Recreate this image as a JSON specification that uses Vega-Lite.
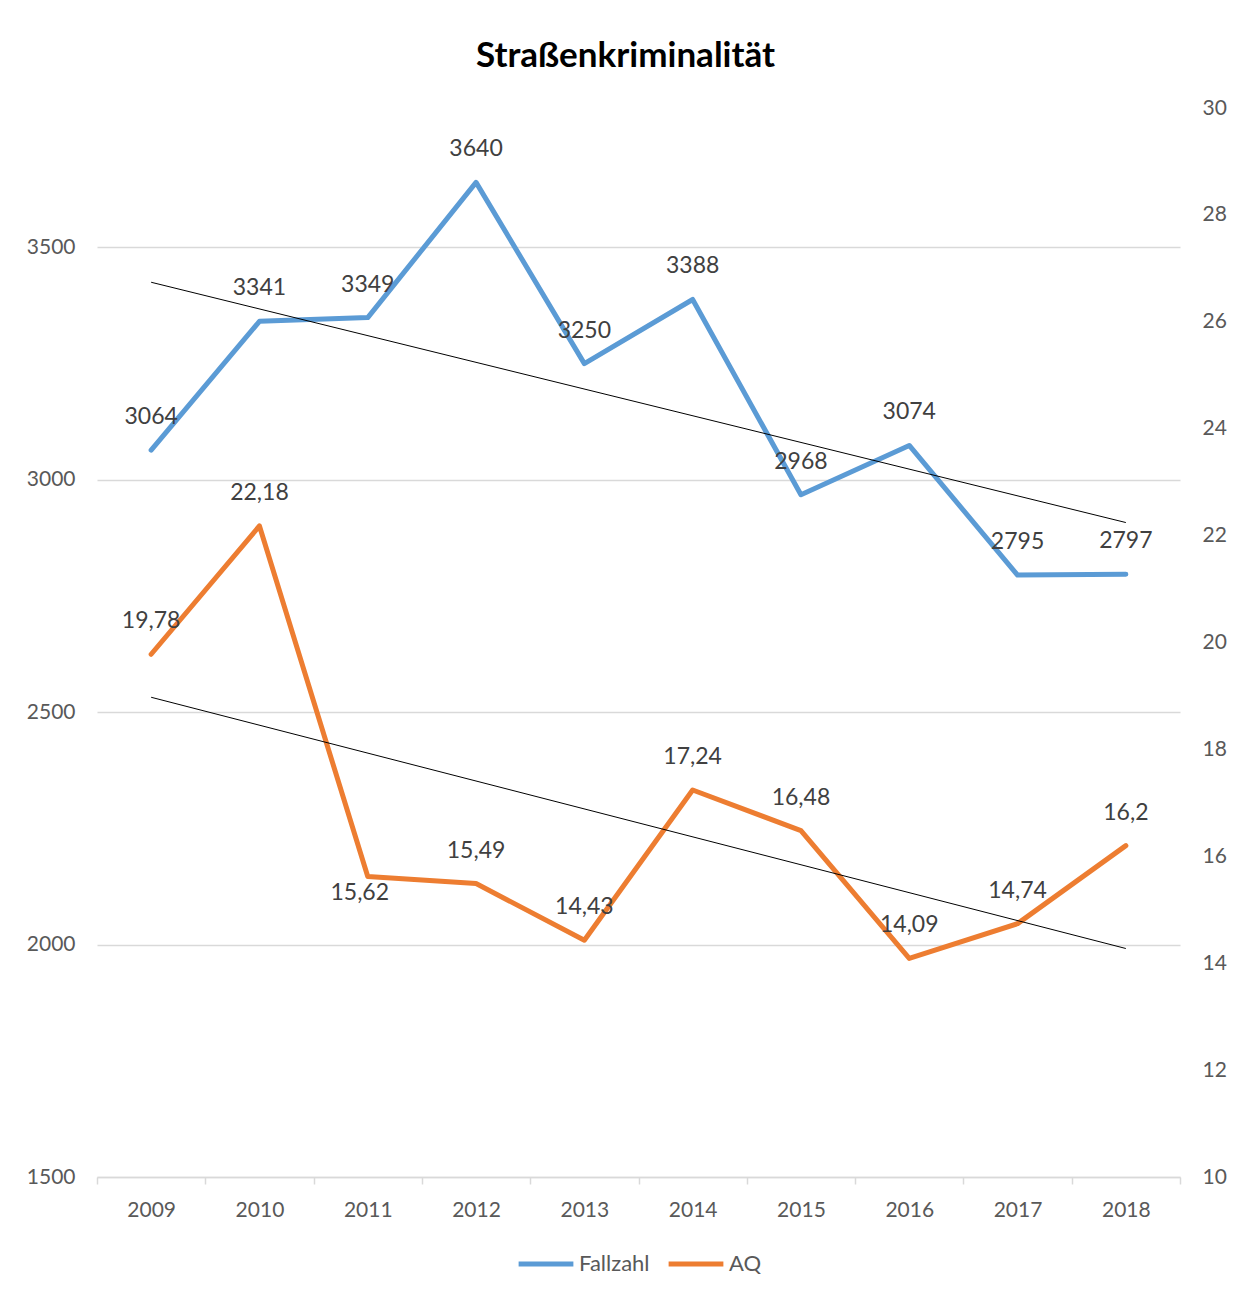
{
  "$schema": "https://vega.github.io/schema/vega-lite/v6.json",
  "width": 1083,
  "height": 1069,
  "autosize": {"type": "none"},
  "padding": {"left": 97, "top": 108, "right": 53, "bottom": 116},
  "background": "white",
  "title": {
    "text": "Straßenkriminalität",
    "font": "Lato",
    "fontSize": 35,
    "fontWeight": "bold",
    "color": "#000000",
    "anchor": "middle",
    "dx": -13,
    "baseline": "alphabetic",
    "offset": -5
  },
  "data": {
    "values": [
      {"year": 2009, "Fallzahl": 3064, "AQ": 19.78},
      {"year": 2010, "Fallzahl": 3341, "AQ": 22.18},
      {"year": 2011, "Fallzahl": 3349, "AQ": 15.62},
      {"year": 2012, "Fallzahl": 3640, "AQ": 15.49},
      {"year": 2013, "Fallzahl": 3250, "AQ": 14.43},
      {"year": 2014, "Fallzahl": 3388, "AQ": 17.24},
      {"year": 2015, "Fallzahl": 2968, "AQ": 16.48},
      {"year": 2016, "Fallzahl": 3074, "AQ": 14.09},
      {"year": 2017, "Fallzahl": 2795, "AQ": 14.74},
      {"year": 2018, "Fallzahl": 2797, "AQ": 16.2}
    ]
  },
  "encoding": {
    "x": {
      "field": "year",
      "type": "ordinal",
      "scale": {"type": "band", "paddingInner": 0, "paddingOuter": 0},
      "axis": {
        "title": null,
        "labelAngle": 0,
        "tickBand": "extent",
        "domainColor": "#D9D9D9",
        "domainWidth": 1.5,
        "tickColor": "#D9D9D9",
        "tickWidth": 1.5,
        "tickSize": 7,
        "labelPadding": 15,
        "labelFont": "Lato",
        "labelFontSize": 21,
        "labelColor": "#595959",
        "grid": false
      }
    }
  },
  "layer": [
    {
      "encoding": {
        "y": {
          "field": "Fallzahl",
          "type": "quantitative",
          "scale": {"domain": [1500, 3800], "nice": false, "zero": false},
          "axis": {
            "orient": "left",
            "title": null,
            "values": [1500, 2000, 2500, 3000, 3500],
            "format": "d",
            "domain": false,
            "ticks": false,
            "tickSize": 0,
            "labelPadding": 22,
            "labelFont": "Lato",
            "labelFontSize": 21,
            "labelColor": "#595959",
            "grid": true,
            "gridColor": "#D9D9D9",
            "gridWidth": 1.5
          }
        }
      },
      "layer": [
        {
          "mark": {"type": "line", "strokeWidth": 5, "strokeCap": "round", "strokeJoin": "round"},
          "encoding": {
            "color": {
              "datum": "Fallzahl",
              "scale": {"domain": ["Fallzahl", "AQ"], "range": ["#5B9BD5", "#ED7D31"]},
              "legend": {
                "title": null,
                "orient": "bottom",
                "direction": "horizontal",
                "symbolType": "stroke",
                "symbolSize": 3000,
                "symbolStrokeWidth": 5,
                "labelFont": "Lato",
                "labelFontSize": 22,
                "labelColor": "#595959",
                "labelOffset": 3,
                "columnPadding": 8,
                "offset": 14
              }
            }
          }
        },
        {
          "transform": [{"regression": "Fallzahl", "on": "year"}],
          "mark": {"type": "line", "color": "#000000", "strokeWidth": 1},
          "encoding": {}
        },
        {
          "mark": {"type": "text", "dy": -33, "font": "Lato", "fontSize": 23, "color": "#404040", "baseline": "middle"},
          "encoding": {"text": {"field": "Fallzahl", "type": "quantitative", "format": "~g"}}
        }
      ]
    },
    {
      "encoding": {
        "y": {
          "field": "AQ",
          "type": "quantitative",
          "scale": {"domain": [10, 30], "nice": false, "zero": false},
          "axis": {
            "orient": "right",
            "title": null,
            "values": [10, 12, 14, 16, 18, 20, 22, 24, 26, 28, 30],
            "format": "d",
            "domain": false,
            "ticks": false,
            "tickSize": 0,
            "labelPadding": 22,
            "labelFont": "Lato",
            "labelFontSize": 21,
            "labelColor": "#595959",
            "grid": false
          }
        }
      },
      "layer": [
        {
          "mark": {"type": "line", "strokeWidth": 5, "strokeCap": "round", "strokeJoin": "round"},
          "encoding": {"color": {"datum": "AQ"}}
        },
        {
          "transform": [{"regression": "AQ", "on": "year"}],
          "mark": {"type": "line", "color": "#000000", "strokeWidth": 1},
          "encoding": {}
        },
        {
          "transform": [{"filter": "datum.year != 2011"}],
          "mark": {"type": "text", "dy": -33, "font": "Lato", "fontSize": 23, "color": "#404040", "baseline": "middle"},
          "encoding": {"text": {"field": "AQ", "type": "quantitative", "format": "~g"}}
        },
        {
          "transform": [{"filter": "datum.year == 2011"}],
          "mark": {"type": "text", "dy": 16, "dx": -8, "font": "Lato", "fontSize": 23, "color": "#404040", "baseline": "middle"},
          "encoding": {"text": {"field": "AQ", "type": "quantitative", "format": "~g"}}
        }
      ]
    }
  ],
  "resolve": {"scale": {"y": "independent"}},
  "config": {
    "view": {"stroke": null},
    "legend": {"layout": {"bottom": {"anchor": "middle"}}},
    "locale": {
      "number": {"decimal": ",", "thousands": ".", "grouping": [3], "currency": ["", " €"]}
    }
  }
}
